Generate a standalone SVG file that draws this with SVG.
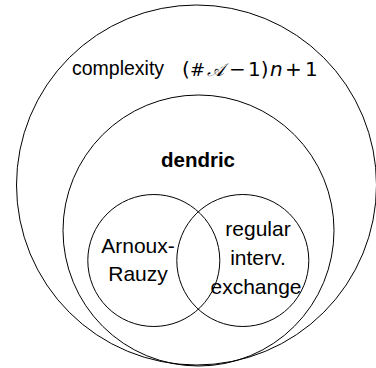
<svg xmlns="http://www.w3.org/2000/svg" width="376" height="368" viewBox="0 0 376 368">
<style>
.c{fill:none;stroke:#000;stroke-width:1}
.t{font-family:"Liberation Sans","DejaVu Sans",sans-serif;fill:#000}
.m{font-family:"DejaVu Sans","Liberation Sans",sans-serif;fill:#000;font-size:20px}
</style>
<rect width="376" height="368" fill="#fff"/>
<g id="complexity">
<circle class="c" cx="196.5" cy="185" r="180"/>
<text class="t" x="72" y="75" font-size="19.5">complexity</text>
<text class="m" y="76"><tspan x="182">(</tspan><tspan x="190" font-size="18">#</tspan><tspan x="207" font-size="18" font-family="DejaVu Serif,serif" font-style="italic">𝒜</tspan><tspan x="229">−</tspan><tspan x="248">1)</tspan><tspan x="270" font-style="italic">n</tspan><tspan x="285">+</tspan><tspan x="305">1</tspan></text>
</g>
<g id="dendric">
<circle class="c" cx="198.5" cy="230.5" r="135.5"/>
<text class="t" x="198" y="166.5" font-size="20.5" font-weight="bold" text-anchor="middle">dendric</text>
</g>
<g id="arnoux-rauzy">
<circle class="c" cx="153.8" cy="260.5" r="66"/>
<text class="t" x="138" y="252.5" font-size="21" text-anchor="middle">Arnoux-</text>
<text class="t" x="138" y="280.5" font-size="21" text-anchor="middle">Rauzy</text>
</g>
<g id="iet">
<circle class="c" cx="242.8" cy="260.5" r="66"/>
<text class="t" x="258" y="236" font-size="21" text-anchor="middle">regular</text>
<text class="t" x="258" y="265" font-size="21" text-anchor="middle">interv.</text>
<text class="t" x="256" y="294" font-size="21" text-anchor="middle">exchange</text>
</g>
<g id="connectors"/>
</svg>
